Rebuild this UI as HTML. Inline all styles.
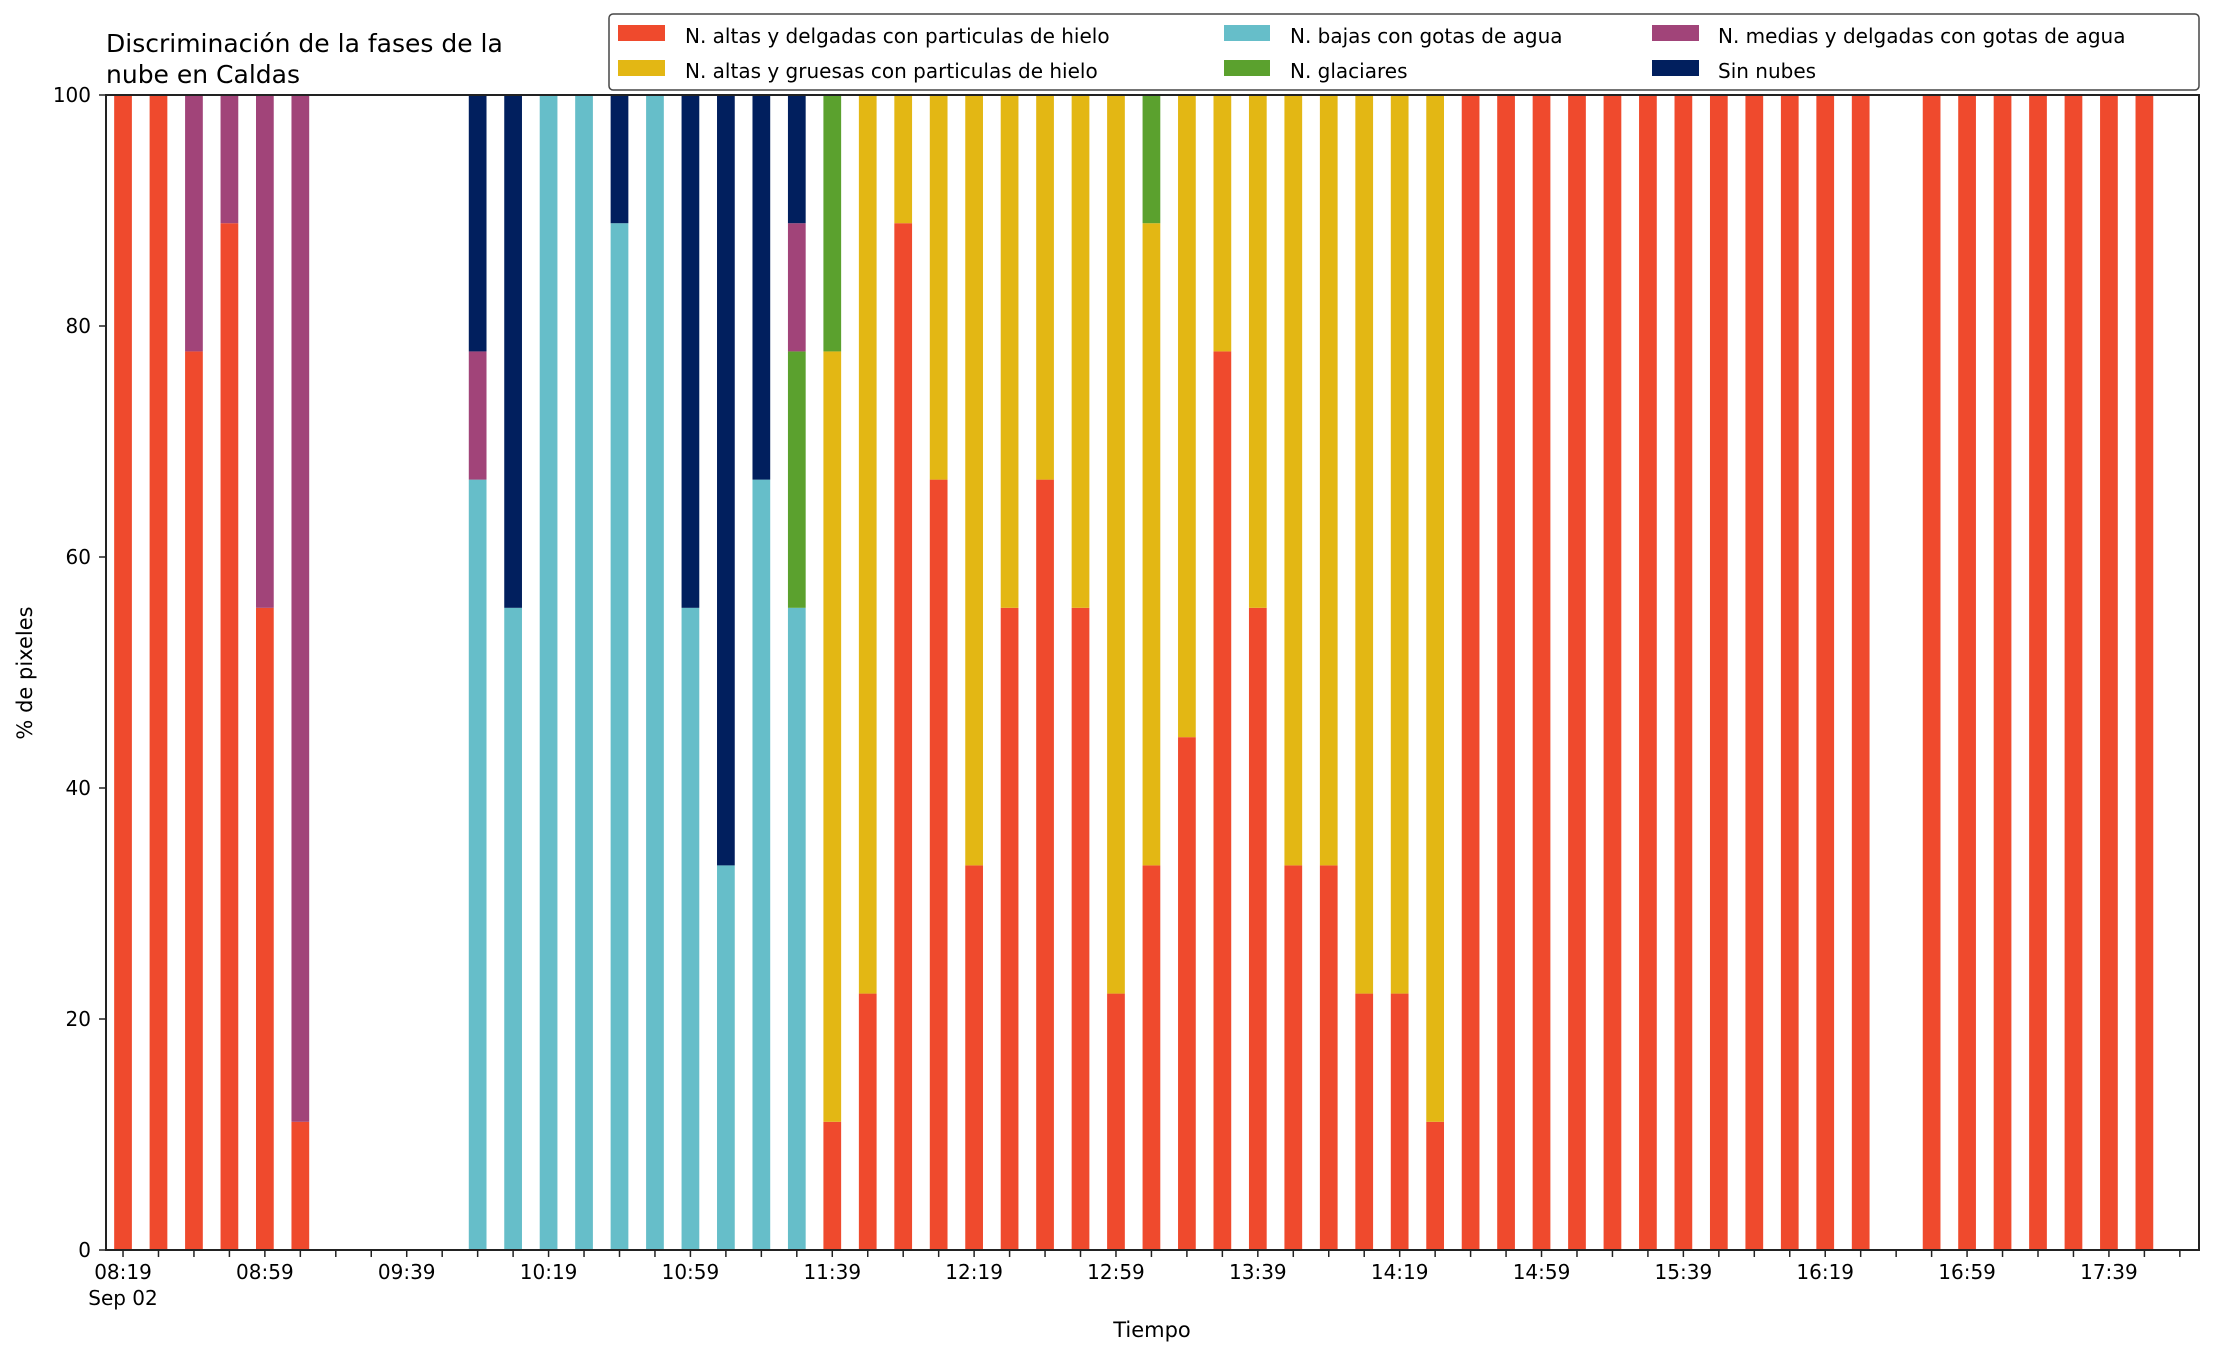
<!DOCTYPE html>
<html><head><meta charset="utf-8">
<style>
html,body{margin:0;padding:0;background:#fff;}
svg{display:block;font-family:"DejaVu Sans","Liberation Sans",sans-serif;}
</style></head>
<body>
<svg id="chart" width="2216" height="1355" viewBox="0 0 2216 1355" xmlns="http://www.w3.org/2000/svg">
<rect width="2216" height="1355" fill="#fff"/>
<text x="106" y="52" font-size="25" fill="#000">Discriminación de la fases de la</text>
<text x="106" y="83" font-size="25" fill="#000">nube en Caldas</text>
<g id="bars"></g>
<g id="axes"></g>
<text transform="translate(32,673) rotate(-90)" text-anchor="middle" font-size="21">% de pixeles</text>
<text x="1152" y="1337" text-anchor="middle" font-size="21">Tiempo</text>
<g>
<rect x="609" y="14" width="1590" height="76" rx="4" fill="#fff" stroke="#333" stroke-width="1.5" opacity="0.9"/>
<rect x="618" y="25" width="47" height="16" fill="#EF4A2D"/>
<text x="685" y="43" font-size="20">N. altas y delgadas con particulas de hielo</text>
<rect x="618" y="60" width="47" height="16" fill="#E3B714"/>
<text x="685" y="78" font-size="20">N. altas y gruesas con particulas de hielo</text>
<rect x="1224" y="25" width="46" height="16" fill="#66BEC9"/>
<text x="1290" y="43" font-size="20">N. bajas con gotas de agua</text>
<rect x="1224" y="60" width="46" height="16" fill="#5BA12E"/>
<text x="1290" y="78" font-size="20">N. glaciares</text>
<rect x="1652" y="25" width="47" height="16" fill="#A14479"/>
<text x="1718" y="43" font-size="20">N. medias y delgadas con gotas de agua</text>
<rect x="1652" y="60" width="47" height="16" fill="#011F5E"/>
<text x="1718" y="78" font-size="20">Sin nubes</text>
</g>
</svg>
<script>
// slot index (10-minute steps from 08:19)
const slots = [0,1,2,3,4,5,10,11,12,13,14,15,16,17,18,19,20,21,22,23,24,25,26,27,28,29,30,31,32,33,34,35,36,37,38,39,40,41,42,43,44,45,46,47,48,49,51,52,53,54,55,56,57];
const altasDelgadas = [100,100,77.8,88.9,55.6,11.1,0,0,0,0,0,0,0,0,0,0,11.1,22.2,88.9,66.7,33.3,55.6,66.7,55.6,22.2,33.3,44.4,77.8,55.6,33.3,33.3,22.2,22.2,11.1,100,100,100,100,100,100,100,100,100,100,100,100,100,100,100,100,100,100,100];
const altasGruesas = [0,0,0,0,0,0,0,0,0,0,0,0,0,0,0,0,66.7,77.8,11.1,33.3,66.7,44.4,33.3,44.4,77.8,55.6,55.6,22.2,44.4,66.7,66.7,77.8,77.8,88.9,0,0,0,0,0,0,0,0,0,0,0,0,0,0,0,0,0,0,0];
const bajas = [0,0,0,0,0,0,66.7,55.6,100,100,88.9,100,55.6,33.3,66.7,55.6,0,0,0,0,0,0,0,0,0,0,0,0,0,0,0,0,0,0,0,0,0,0,0,0,0,0,0,0,0,0,0,0,0,0,0,0,0];
const glaciares = [0,0,0,0,0,0,0,0,0,0,0,0,0,0,0,22.2,22.2,0,0,0,0,0,0,0,0,11.1,0,0,0,0,0,0,0,0,0,0,0,0,0,0,0,0,0,0,0,0,0,0,0,0,0,0,0];
const medias = [0,0,22.2,11.1,44.4,88.9,11.1,0,0,0,0,0,0,0,0,11.1,0,0,0,0,0,0,0,0,0,0,0,0,0,0,0,0,0,0,0,0,0,0,0,0,0,0,0,0,0,0,0,0,0,0,0,0,0];
const sinNubes = [0,0,0,0,0,0,22.2,44.4,0,0,11.1,0,44.4,66.7,33.3,11.1,0,0,0,0,0,0,0,0,0,0,0,0,0,0,0,0,0,0,0,0,0,0,0,0,0,0,0,0,0,0,0,0,0,0,0,0,0];
const yTicks = [0,20,40,60,80,100];
const xTickLabels = ["08:19","08:59","09:39","10:19","10:59","11:39","12:19","12:59","13:39","14:19","14:59","15:39","16:19","16:59","17:39"];

const seriesList = [altasDelgadas, altasGruesas, bajas, glaciares, medias, sinNubes];
const seriesNames = ["altas-delgadas","altas-gruesas","bajas","glaciares","medias","sin-nubes"];
const colors = ["#EF4A2D","#E3B714","#66BEC9","#5BA12E","#A14479","#011F5E"];

const L=106, R=2199, T=95, B=1250;
const xMin=-0.48, xMax=58.54;
const xs = s => L + (s - xMin) / (xMax - xMin) * (R - L);
const ys = v => B - v / 100 * (B - T);
const NS="http://www.w3.org/2000/svg";
const barsG=document.getElementById('bars');
const axesG=document.getElementById('axes');
function mk(tag, attrs, parent){const e=document.createElementNS(NS,tag);for(const k in attrs)e.setAttribute(k,attrs[k]);parent.appendChild(e);return e;}
const bw = 0.5;
slots.forEach((s,i)=>{
  let base=0;
  seriesList.forEach((arr,j)=>{
    const v=arr[i];
    if(v>0){
      const r=mk('rect',{x:xs(s-bw/2),y:ys(base+v),width:xs(s+bw/2)-xs(s-bw/2),height:ys(base)-ys(base+v),fill:colors[j]},barsG);
      
      
    }
    base+=v;
  });
});
// frame
const fr=mk('rect',{x:L,y:T,width:R-L,height:B-T,fill:'none',stroke:'#222','stroke-width':2},axesG);


// y ticks
yTicks.forEach(v=>{
  mk('line',{x1:L-7,x2:L,y1:ys(v),y2:ys(v),stroke:'#222','stroke-width':1.5},axesG);
  const t=mk('text',{x:L-15,y:ys(v)+7,'text-anchor':'end','font-size':20},axesG);
  t.textContent=v;
  
  
});
// x minor ticks
for(let s=0;s<=58;s++){
  mk('line',{x1:xs(s),x2:xs(s),y1:B,y2:B+7,stroke:'#222','stroke-width':1.5},axesG);
}
xTickLabels.forEach((lab,i)=>{
  const t=mk('text',{x:xs(i*4),y:1279,'text-anchor':'middle','font-size':20},axesG);
  t.textContent=lab;
  
  
});
const sd=mk('text',{x:xs(0),y:1305,'text-anchor':'middle','font-size':20},axesG);
sd.textContent="Sep 02";


</script>
</body></html>
